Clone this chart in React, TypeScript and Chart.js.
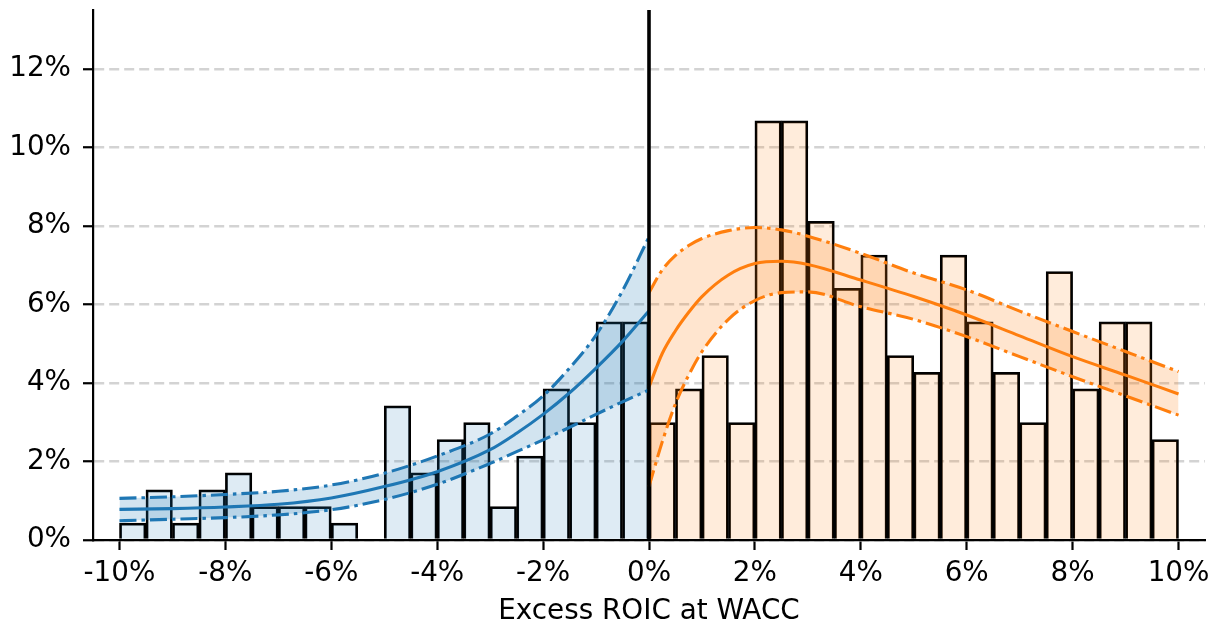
import React, { useEffect, useRef } from "react";
import { Chart, registerables } from "chart.js";

Chart.register(...registerables);

// Histogram bins (bin centres, % of companies)
const blueBinCenters = [-9.75, -9.25, -8.75, -8.25, -7.75, -7.25, -6.75, -6.25, -5.75, -5.25, -4.75, -4.25, -3.75, -3.25, -2.75, -2.25, -1.75, -1.25, -0.75, -0.25];
const blueBinValues = [0.43, 1.28, 0.43, 1.28, 1.71, 0.85, 0.85, 0.85, 0.43, 0, 3.42, 1.71, 2.56, 2.99, 0.85, 2.14, 3.85, 2.99, 5.56, 5.56];
const orangeBinCenters = [0.25, 0.75, 1.25, 1.75, 2.25, 2.75, 3.25, 3.75, 4.25, 4.75, 5.25, 5.75, 6.25, 6.75, 7.25, 7.75, 8.25, 8.75, 9.25, 9.75];
const orangeBinValues = [2.99, 3.85, 4.7, 2.99, 10.68, 10.68, 8.12, 6.41, 7.26, 4.7, 4.27, 7.26, 5.56, 4.27, 2.99, 6.84, 3.85, 5.56, 5.56, 2.56];

// Fitted curves with bands
const blueCurveX = [-10, -9, -8, -7, -6, -5, -4, -3, -2.5, -2, -1.5, -1, -0.5, 0];
const blueFit = [0.78, 0.8, 0.84, 0.91, 1.07, 1.36, 1.74, 2.3, 2.72, 3.2, 3.75, 4.38, 5.06, 5.84];
const blueUpper = [1.06, 1.1, 1.16, 1.24, 1.4, 1.7, 2.14, 2.7, 3.15, 3.67, 4.38, 5.22, 6.35, 7.72];
const blueLower = [0.49, 0.53, 0.57, 0.64, 0.77, 1.03, 1.42, 1.95, 2.25, 2.55, 2.87, 3.2, 3.52, 3.82];

const orangeCurveX = [0, 0.25, 0.5, 0.75, 1, 1.5, 2, 2.5, 3, 4, 5, 6, 7, 8, 9, 10];
const orangeFit = [3.9, 4.75, 5.33, 5.8, 6.2, 6.75, 7.04, 7.1, 7.02, 6.62, 6.2, 5.73, 5.2, 4.67, 4.2, 3.72];
const orangeUpper = [6.3, 6.88, 7.25, 7.5, 7.68, 7.88, 7.96, 7.9, 7.74, 7.3, 6.8, 6.37, 5.83, 5.31, 4.8, 4.29];
const orangeLower = [1.36, 2.5, 3.47, 4.2, 4.8, 5.62, 6.1, 6.3, 6.32, 5.94, 5.62, 5.18, 4.67, 4.16, 3.67, 3.18];

const xTickValues = [-10, -8, -6, -4, -2, 0, 2, 4, 6, 8, 10];
const yTickValues = [0, 2, 4, 6, 8, 10, 12];
const xTitle = "Excess ROIC at WACC";
const dividerValue = 0;

const FONT = "'DejaVu Sans', sans-serif";
const FS = 27.8;
const BLUE = "#1f77b4";
const ORANGE = "#ff7f0e";
const DASHDOT = [17, 5, 3.5, 5];

const toPoints = (xs: number[], ys: number[]) => xs.map((x, i) => ({ x, y: ys[i] }));

const dividerPlugin = {
  id: "divider",
  afterDatasetsDraw(chart: any) {
    const { ctx, chartArea, scales } = chart;
    const px = scales.x.getPixelForValue(dividerValue);
    ctx.save();
    ctx.strokeStyle = "#000";
    ctx.lineWidth = 3.6;
    ctx.beginPath();
    ctx.moveTo(px, chartArea.top);
    ctx.lineTo(px, chartArea.bottom);
    ctx.stroke();
    ctx.restore();
  },
};

export default function App() {
  const canvasRef = useRef<HTMLCanvasElement | null>(null);

  useEffect(() => {
    if (!canvasRef.current) return;
    const lineBase = {
      type: "line" as const,
      pointRadius: 0,
      borderWidth: 3.1,
      cubicInterpolationMode: "monotone" as const,
      order: 0,
    };
    const barBase = {
      type: "bar" as const,
      borderColor: "#000",
      borderWidth: 2.1,
      barPercentage: 1,
      categoryPercentage: 1,
      grouped: false,
      order: 1,
    };
    const chart = new Chart(canvasRef.current, {
      type: "bar",
      data: {
        datasets: [
          { ...lineBase, data: toPoints(blueCurveX, blueUpper), borderColor: BLUE, borderDash: DASHDOT, fill: "+1", backgroundColor: "rgba(31,119,180,0.2)" },
          { ...lineBase, data: toPoints(blueCurveX, blueLower), borderColor: BLUE, borderDash: DASHDOT, fill: false },
          { ...lineBase, data: toPoints(blueCurveX, blueFit), borderColor: BLUE, fill: false },
          { ...lineBase, data: toPoints(orangeCurveX, orangeUpper), borderColor: ORANGE, borderDash: DASHDOT, fill: "+1", backgroundColor: "rgba(255,127,14,0.2)" },
          { ...lineBase, data: toPoints(orangeCurveX, orangeLower), borderColor: ORANGE, borderDash: DASHDOT, fill: false },
          { ...lineBase, data: toPoints(orangeCurveX, orangeFit), borderColor: ORANGE, fill: false },
          { ...barBase, data: toPoints(blueBinCenters, blueBinValues), backgroundColor: "rgba(31,119,180,0.15)" },
          { ...barBase, data: toPoints(orangeBinCenters, orangeBinValues), backgroundColor: "rgba(255,127,14,0.15)" },
        ] as any,
      },
      options: {
        responsive: false,
        animation: false,
        events: [],
        layout: { padding: { left: 0, right: 17, top: 10, bottom: 0 } },
        plugins: {
          legend: { display: false },
          tooltip: { enabled: false },
        },
        scales: {
          x: {
            type: "linear",
            min: -10.5,
            max: 10.5,
            offset: false,
            afterBuildTicks: (s: any) => {
              s.ticks = xTickValues.map((v) => ({ value: v }));
            },
            afterFit: (s: any) => {
              s.height = 89;
              s.paddingLeft = 0;
              s.paddingRight = 0;
            },
            grid: {
              display: true,
              offset: false,
              drawOnChartArea: false,
              drawTicks: true,
              tickLength: 10,
              tickColor: "#000",
              tickWidth: 2.2,
            },
            border: { display: true, color: "#000", width: 2.2 },
            ticks: {
              color: "#000",
              font: { family: FONT, size: FS },
              padding: 7,
              maxRotation: 0,
              autoSkip: false,
              callback: (v: any) => `${v}%`,
            },
            title: {
              display: true,
              text: xTitle,
              color: "#000",
              font: { family: FONT, size: FS },
              padding: { top: 0, bottom: 1 },
            },
          },
          y: {
            type: "linear",
            min: 0,
            max: 13.5,
            afterBuildTicks: (s: any) => {
              s.ticks = yTickValues.map((v) => ({ value: v }));
            },
            afterFit: (s: any) => {
              s.width = 93;
              s.paddingTop = 0;
              s.paddingBottom = 0;
            },
            grid: {
              display: true,
              color: "#d3d3d3",
              lineWidth: 2.5,
              drawTicks: true,
              tickLength: 10,
              tickColor: "#000",
              tickWidth: 2.2,
              tickBorderDash: [],
            },
            border: { display: true, color: "#000", width: 2.2, dash: [10, 5] },
            ticks: {
              color: "#000",
              font: { family: FONT, size: FS },
              padding: 12,
              autoSkip: false,
              callback: (v: any) => `${v}%`,
            },
          },
        },
      } as any,
      plugins: [dividerPlugin],
    });
    return () => chart.destroy();
  }, []);

  return (
    <div style={{ position: "absolute", left: 0, top: 0, width: 1222, height: 629, background: "#fff" }}>
      <canvas ref={canvasRef} width={1222} height={629} style={{ display: "block" }} />
    </div>
  );
}
